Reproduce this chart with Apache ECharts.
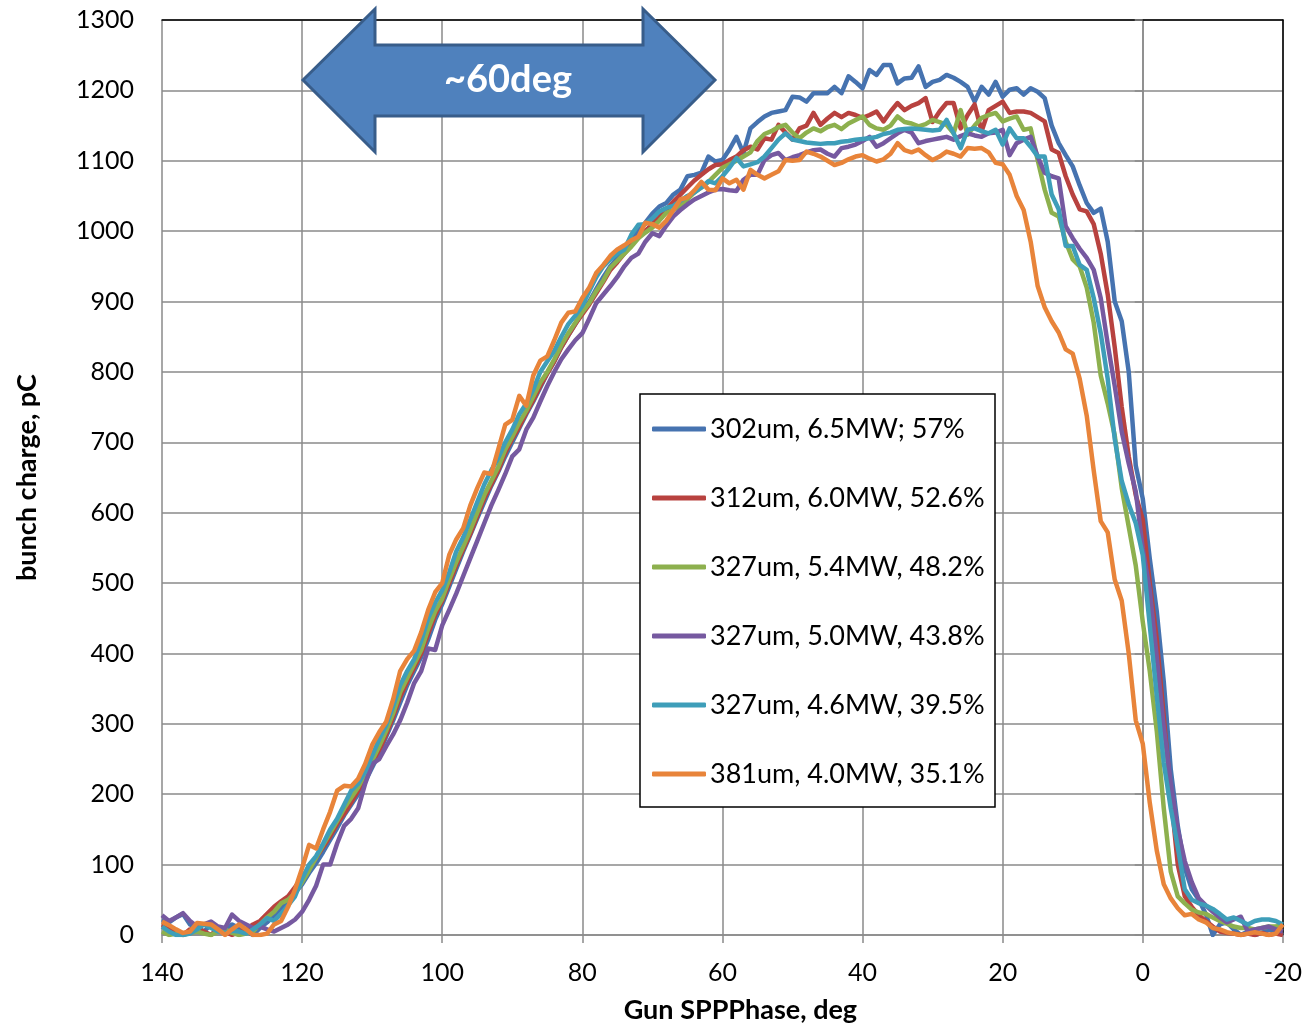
<!DOCTYPE html>
<html>
<head>
<meta charset="utf-8">
<script src="https://cdn.jsdelivr.net/npm/echarts@6/dist/echarts.min.js"></script>
<style>
html,body{margin:0;padding:0;background:#fff;}
#c{width:1305px;height:1029px;}
</style>
</head>
<body>
<div id="c"></div>
<script>
// Gun SPP phase, deg
const X = [140,139,138,137,136,135,134,133,132,131,
130,129,128,127,126,125,124,123,122,121,
120,119,118,117,116,115,114,113,112,111,
110,109,108,107,106,105,104,103,102,101,
100,99,98,97,96,95,94,93,92,91,
90,89,88,87,86,85,84,83,82,81,
80,79,78,77,76,75,74,73,72,71,
70,69,68,67,66,65,64,63,62,61,
60,59,58,57,56,55,54,53,52,51,
50,49,48,47,46,45,44,43,42,41,
40,39,38,37,36,35,34,33,32,31,
30,29,28,27,26,25,24,23,22,21,
20,19,18,17,16,15,14,13,12,11,
10,9,8,7,6,5,4,3,2,1,
0,
-1,-2,-3,-4,-5,-6,-7,-8,-9,-10,
-11,-12,-13,-14,-15,-16,-17,-18,-19,-20];

const NAMES = ['302um, 6.5MW; 57%','312um, 6.0MW, 52.6%','327um, 5.4MW, 48.2%','327um, 5.0MW, 43.8%','327um, 4.6MW, 39.5%','381um, 4.0MW, 35.1%'];

const BLUE = [22,18,25,30,15,10,5,15,10,5,
15,10,5,0,10,18,28,38,48,60,
72,88,102,118,135,152,170,185,200,218,
238,258,282,305,330,355,375,395,420,448,
470,495,520,545,568,592,615,638,658,680,
700,720,740,758,778,798,815,835,852,868,
885,900,918,935,950,962,975,990,1000,1012,
1025,1035,1040,1052,1059,1078,1080,1083,1106,1099,
1101,1116,1134,1111,1146,1155,1163,1168,1170,1172,
1191,1190,1184,1196,1196,1196,1205,1196,1220,1212,
1203,1229,1222,1236,1236,1210,1217,1218,1234,1205,
1212,1215,1222,1218,1212,1205,1184,1205,1194,1212,
1191,1201,1203,1194,1203,1198,1189,1150,1125,1108,
1092,1065,1040,1026,1032,985,900,872,800,667,
620,
535,460,360,235,155,95,65,50,30,0,
15,18,8,0,5,0,3,8,5,0];

const RED = [15,10,5,0,8,10,5,0,10,5,
0,5,8,15,20,30,40,48,55,68,
82,95,110,125,140,158,172,188,205,222,
242,262,285,310,338,360,380,400,428,455,
475,500,525,548,570,595,620,640,660,685,
705,722,742,760,780,798,815,835,852,868,
882,896,912,928,945,956,968,980,992,1000,
1010,1020,1030,1042,1052,1062,1072,1080,1088,1094,
1095,1101,1106,1115,1120,1116,1132,1130,1151,1140,
1130,1146,1150,1168,1151,1160,1168,1162,1168,1165,
1161,1165,1170,1156,1170,1182,1172,1178,1182,1189,
1155,1170,1182,1182,1146,1165,1180,1142,1172,1178,
1184,1168,1170,1170,1168,1162,1156,1116,1111,1078,
1052,1031,1028,1010,968,910,835,750,680,625,
590,
500,420,310,200,100,55,40,28,20,12,
5,3,2,0,2,0,3,0,2,0];

const GREEN = [5,0,2,0,3,5,2,0,5,8,
3,0,2,5,15,25,33,45,50,60,
75,92,110,128,145,162,180,195,210,228,
248,268,290,315,345,365,385,405,435,460,
478,505,530,552,575,600,625,645,665,690,
708,728,745,765,785,800,818,838,855,870,
885,898,915,930,948,958,968,978,990,998,
1005,1015,1026,1030,1036,1045,1055,1062,1070,1080,
1090,1095,1100,1106,1112,1128,1138,1142,1148,1151,
1140,1132,1140,1146,1142,1148,1151,1145,1153,1158,
1163,1151,1146,1144,1150,1163,1155,1153,1149,1152,
1158,1155,1151,1139,1172,1137,1150,1161,1165,1168,
1156,1160,1163,1144,1146,1101,1059,1026,1021,985,
960,950,920,870,795,755,710,635,580,525,
445,
375,290,180,90,55,45,36,32,30,25,
20,16,12,10,10,8,10,12,12,15];

const PURPLE = [28,20,25,31,20,12,15,19,12,10,
29,20,15,10,12,8,5,10,15,22,
33,50,70,100,100,130,155,165,180,215,
243,250,268,285,305,330,358,375,407,405,
440,462,485,510,535,560,585,610,632,655,
680,690,718,735,758,780,800,818,832,845,
855,876,898,910,922,935,950,962,968,985,
997,993,1008,1021,1030,1038,1045,1050,1055,1059,
1060,1058,1057,1073,1080,1080,1101,1108,1111,1101,
1105,1108,1112,1115,1116,1110,1106,1118,1120,1123,
1128,1134,1120,1125,1132,1139,1144,1140,1125,1128,
1130,1132,1134,1130,1135,1139,1136,1134,1139,1140,
1144,1108,1125,1130,1134,1106,1083,1078,1075,1007,
990,975,962,945,905,840,780,715,670,630,
549,
490,395,295,215,150,105,75,52,42,33,
25,18,22,26,5,8,10,12,8,5];

const TEAL = [12,5,0,0,2,8,15,10,5,3,
6,5,2,8,15,24,20,30,42,55,
80,100,112,130,150,165,185,205,215,232,
255,278,298,325,355,375,392,418,450,472,
490,515,545,565,590,615,640,660,678,700,
718,740,755,775,800,815,830,850,868,880,
894,915,935,950,960,968,974,995,1009,1010,
1018,1028,1033,1036,1043,1050,1055,1062,1071,1068,
1078,1090,1104,1092,1095,1098,1106,1118,1130,1139,
1130,1128,1126,1125,1124,1125,1125,1127,1128,1130,
1131,1132,1134,1138,1140,1144,1145,1146,1145,1144,
1143,1144,1158,1139,1118,1144,1146,1142,1139,1144,
1123,1146,1132,1132,1120,1106,1106,1052,1031,979,
979,952,945,905,855,790,705,645,612,585,
540,
440,340,245,180,125,65,50,45,42,37,
30,22,25,20,15,20,22,22,20,15];

const ORANGE = [19,14,8,3,5,17,16,15,8,0,
8,15,8,0,0,2,15,20,40,65,
95,128,123,150,175,205,212,211,222,243,
270,288,303,335,375,392,404,430,462,487,
500,540,562,578,610,635,657,655,690,725,
732,766,752,795,816,822,845,870,884,886,
905,920,941,952,965,974,980,987,992,1012,
1010,1005,1015,1030,1045,1048,1058,1070,1059,1058,
1075,1068,1073,1059,1087,1080,1075,1080,1085,1101,
1100,1101,1113,1110,1106,1100,1094,1097,1102,1106,
1108,1103,1099,1102,1110,1125,1115,1112,1116,1108,
1101,1106,1113,1110,1106,1118,1117,1118,1112,1097,
1095,1080,1050,1030,985,922,892,872,856,832,
826,790,738,660,588,572,505,475,400,305,
272,
188,120,72,52,38,28,30,22,18,10,
8,4,2,0,2,4,2,0,2,15];

const SERIES = [BLUE, RED, GREEN, PURPLE, TEAL, ORANGE];
const COLORS = ['#4673B0','#B8423F','#8DB04E','#7659A0','#3E9EB9','#E8843A'];

const FONT = 'Lato';
const chart = echarts.init(document.getElementById('c'));
const gridColor = '#8a8a8a';

chart.setOption({
  backgroundColor: '#ffffff',
  animation: false,
  textStyle: {fontFamily: FONT},
  grid: {left: 162, right: 21, top: 20, bottom: 92, containLabel: false},
  xAxis: [{
    type: 'value', inverse: true, min: -20, max: 140, interval: 20,
    name: 'Gun SPPPhase, deg', nameLocation: 'middle', nameGap: 62,
    nameTextStyle: {fontFamily: FONT, fontSize: 27, fontWeight: 'bold', color: '#000', padding: [0,0,0,36]},
    axisLine: {show: true, lineStyle: {color: gridColor, width: 1.5}},
    axisTick: {show: true, length: 8, lineStyle: {color: gridColor, width: 1.5}},
    axisLabel: {fontFamily: FONT, fontSize: 25, color: '#000', margin: 25},
    splitLine: {show: true, lineStyle: {color: gridColor, width: 1.5}}
  }, {
    type: 'value', inverse: true, min: -20, max: 140, position: 'top',
    axisLine: {show: true, onZero: false, lineStyle: {color: '#000', width: 1.5}},
    axisTick: {show: false}, axisLabel: {show: false}, splitLine: {show: false}
  }],
  yAxis: [{
    type: 'value', min: 0, max: 1300, interval: 100,
    name: 'bunch charge, pC', nameLocation: 'middle', nameGap: 121,
    nameTextStyle: {fontFamily: FONT, fontSize: 27, fontWeight: 'bold', color: '#000'},
    axisLine: {show: true, lineStyle: {color: gridColor, width: 1.5}},
    axisTick: {show: true, length: 8, lineStyle: {color: gridColor, width: 1.5}},
    axisLabel: {fontFamily: FONT, fontSize: 25, color: '#000', margin: 28, formatter: v => String(v)},
    splitLine: {show: true, lineStyle: {color: gridColor, width: 1.5}}
  }, {
    type: 'value', min: 0, max: 1300, position: 'right',
    axisLine: {show: true, onZero: false, lineStyle: {color: '#000', width: 1.5}},
    axisTick: {show: false}, axisLabel: {show: false}, splitLine: {show: false}
  }],
  legend: {
    orient: 'vertical', left: 652, top: 415, padding: 0,
    itemGap: 41, itemWidth: 54, itemHeight: 5, icon: 'roundRect',
    textStyle: {fontFamily: FONT, fontSize: 27, color: '#000', lineHeight: 28, padding: [0,0,0,-1]},
    data: NAMES
  },
  graphic: [
    {type: 'rect', z: 3, shape: {x: 640, y: 394, width: 355, height: 413},
     style: {fill: '#fff', stroke: '#000', lineWidth: 1.5}},
    {type: 'polygon', z: 10,
     shape: {points: [[303,80],[375,9],[375,45],[643,45],[643,9],[715,80],[643,152],[643,116],[375,116],[375,152]]},
     style: {fill: '#4F81BD', stroke: '#385D8A', lineWidth: 3}},
    {type: 'text', z: 11, left: 444, top: 61,
     style: {text: '~60deg', fill: '#fff', font: 'bold 38px Lato', textAlign: 'left', textVerticalAlign: 'top'}}
  ],
  series: SERIES.map((s, k) => ({
    name: NAMES[k], type: 'line', xAxisIndex: 0, yAxisIndex: 0,
    data: X.map((x, i) => [x, s[i]]),
    symbol: 'none', smooth: false,
    lineStyle: {color: COLORS[k], width: 4.5, join: 'round'},
    itemStyle: {color: COLORS[k]}
  }))
});
</script>
</body>
</html>
